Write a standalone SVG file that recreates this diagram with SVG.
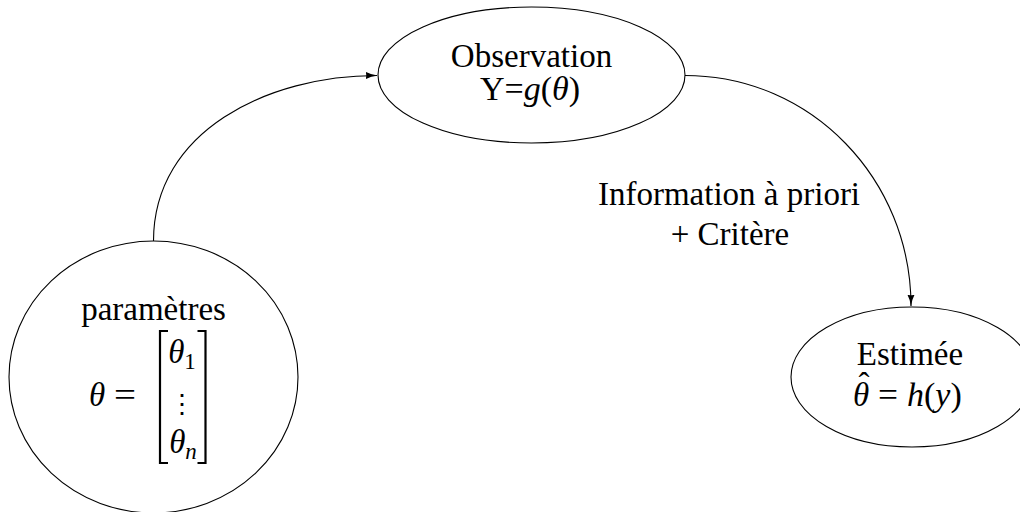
<svg xmlns="http://www.w3.org/2000/svg" width="1020" height="512" viewBox="0 0 1020 512">
<style>
.node{fill:none;stroke:#000;stroke-width:1.1}
.edge{fill:none;stroke:#000;stroke-width:1.1}
text{font-family:"Liberation Serif","DejaVu Serif",serif;font-size:33px;fill:#000}
.it{font-style:italic}
.sub{font-size:23px}
.br{fill:none;stroke:#000;stroke-width:2.2}
</style>
<defs>
<marker id="arr" viewBox="0 0 12 8" refX="11.5" refY="4" markerWidth="12" markerHeight="8" markerUnits="userSpaceOnUse" orient="auto">
<path d="M0,0.3 Q5,3.2 12,4 Q5,4.8 0,7.7 Q1.5,4 0,0.3 z" fill="#000"/>
</marker>
</defs>
<rect width="1020" height="512" fill="#fff"/>
<g id="connectors">
<path class="edge" d="M153.5,241 C153.5,131 268,75.5 377,75.5" marker-end="url(#arr)"/>
<path class="edge" d="M685,75.5 C812,75.5 911,180 911,306" marker-end="url(#arr)"/>
</g>
<g id="label-info">
<text x="729" y="205" text-anchor="middle">Information à priori</text>
<text x="730" y="245" text-anchor="middle">+ Critère</text>
</g>
<g id="node-observation">
<ellipse class="node" cx="531.5" cy="75" rx="153.5" ry="68"/>
<text x="531.5" y="67" text-anchor="middle">Observation</text>
<text x="530" y="100" text-anchor="middle" style="font-size:34px">Y=<tspan class="it">g</tspan>(<tspan class="it">θ</tspan>)</text>
</g>
<g id="node-parametres">
<ellipse class="node" cx="153.5" cy="377" rx="144.5" ry="136"/>
<text x="153.5" y="320" text-anchor="middle">paramètres</text>
<text x="89" y="406" class="it">θ</text>
<text x="114" y="406" textLength="22" lengthAdjust="spacingAndGlyphs">=</text>
<path class="br" d="M168,331 H160 V463 H168"/>
<path class="br" d="M197.5,331 H205.5 V463 H197.5"/>
<text x="182" y="363" text-anchor="middle"><tspan class="it">θ</tspan><tspan class="sub" dy="6">1</tspan></text>
<text x="182" y="413" text-anchor="middle" style="font-family:'DejaVu Serif',serif;font-size:26px">⋮</text>
<text x="183" y="453" text-anchor="middle"><tspan class="it">θ</tspan><tspan class="sub it" dy="6">n</tspan></text>
</g>
<g id="node-estimee">
<ellipse class="node" cx="912" cy="377" rx="121" ry="70"/>
<text x="910" y="365" text-anchor="middle">Estimée</text>
<text x="853" y="406" class="it">θ</text>
<text x="864" y="396" text-anchor="middle">ˆ</text>
<text x="878" y="406" textLength="20" lengthAdjust="spacingAndGlyphs">=</text>
<text x="907" y="406" style="font-size:34px"><tspan class="it">h</tspan>(<tspan class="it">y</tspan>)</text>
</g>
</svg>
